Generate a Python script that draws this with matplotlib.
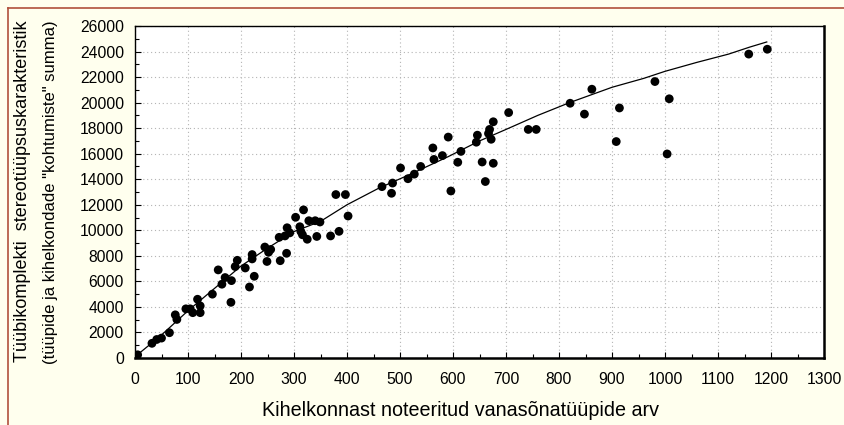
import matplotlib
matplotlib.use("Agg")
import matplotlib.pyplot as plt
from matplotlib.ticker import MultipleLocator
from matplotlib.lines import Line2D

plt.rcParams["font.family"] = ["Liberation Sans", "DejaVu Sans"]

# parish data: proverb types recorded (x) vs stereotypicality sum (y)
types_x = [5, 32, 41, 50, 65, 76, 79, 96, 104, 109, 118, 123, 123, 146, 157, 164,
           170, 181, 182, 189, 193, 208, 216, 221, 221, 225, 245, 249, 252, 256,
           272, 274, 283, 286, 287, 292, 303, 311, 313, 318, 316, 325, 328, 340,
           349, 343, 369, 385, 379, 397, 402, 466, 484, 486, 501, 515, 527, 539,
           562, 564, 580, 591, 596, 609, 615, 644, 646, 655, 661, 667, 669, 672,
           676, 676, 705, 742, 757, 821, 848, 862, 908, 914, 981, 1004, 1008,
           1158, 1193]
stereo_y = [250, 1150, 1450, 1560, 1980, 3380, 3020, 3850, 3850, 3550, 4600, 3550,
            4080, 5000, 6900, 5780, 6300, 4360, 6060, 7160, 7650, 7050, 5560, 8100,
            7760, 6400, 8690, 7560, 8280, 8500, 9450, 7620, 9560, 8200, 10200, 9800,
            11020, 10280, 9900, 11600, 9650, 9300, 10750, 10750, 10650, 9520, 9560,
            9920, 12800, 12800, 11120, 13420, 12900, 13700, 14880, 14040, 14400,
            15000, 16450, 15550, 15850, 17300, 13080, 15330, 16180, 16900, 17450,
            15350, 13820, 17580, 17900, 17130, 15250, 18500, 19220, 17900, 17900,
            19950, 19100, 21050, 16950, 19580, 21650, 15980, 20300, 23800, 24180]

# smoothed fit curve
fit_x = [3, 50, 100, 150, 200, 250, 300, 350, 400, 460, 520, 590, 650, 700, 760,
         820, 900, 960, 1000, 1060, 1120, 1160, 1192]
fit_y = [200, 1800, 3700, 5450, 7200, 8600, 9900, 10700, 12000, 13300, 14400,
         15750, 17000, 17900, 19000, 20000, 21200, 21900, 22450, 23150, 23800,
         24350, 24750]

W, H = 844, 425
fig = plt.figure(figsize=(W / 100, H / 100), dpi=100, facecolor="#FFFFEE")

# reddish frame along the top and left edge
fig.add_artist(Line2D([8 / W, 1], [1 - 8 / H, 1 - 8 / H], color="#B0503C", lw=1.2))
fig.add_artist(Line2D([8 / W, 8 / W], [0, 1 - 8 / H], color="#B0503C", lw=1.2))

ax = fig.add_axes([135 / W, (H - 358) / H, 689 / W, 332 / H])
ax.set_facecolor("white")

ax.plot(fit_x, fit_y, color="black", lw=0.9, zorder=3)
ax.scatter(types_x, stereo_y, s=40, color="black", edgecolors="none", zorder=4)

ax.set_xlim(0, 1300)
ax.set_ylim(0, 26000)
ax.xaxis.set_major_locator(MultipleLocator(100))
ax.xaxis.set_minor_locator(MultipleLocator(50))
ax.yaxis.set_major_locator(MultipleLocator(2000))
ax.yaxis.set_minor_locator(MultipleLocator(1000))
ax.grid(True, which="major", color="#B4B4B4", lw=0.8, linestyle=(0, (1, 2.5)))
ax.set_axisbelow(True)

ax.tick_params(which="major", direction="in", length=4, width=0.8,
               labelsize=11.3, pad=8)
ax.tick_params(axis="x", which="major", pad=10)
ax.tick_params(which="minor", direction="in", length=3, width=0.8)
for sp in ax.spines.values():
    sp.set_linewidth(1.0)
ax.spines["right"].set_linewidth(1.8)
ax.spines["bottom"].set_linewidth(1.8)

fig.text(461 / W, 1 - 411 / H, "Kihelkonnast noteeritud vanasõnatüüpide arv",
         ha="center", va="center", fontsize=14.2)
fig.text(23 / W, 1 - 191 / H, "Tüübikomplekti  stereotüüpsuskarakteristik",
         ha="center", va="center", rotation=90, fontsize=13)
fig.text(51 / W, 1 - 192 / H, "(tüüpide ja kihelkondade \"kohtumiste\" summa)",
         ha="center", va="center", rotation=90, fontsize=12)

fig.savefig("out.png", dpi=100, facecolor=fig.get_facecolor())
